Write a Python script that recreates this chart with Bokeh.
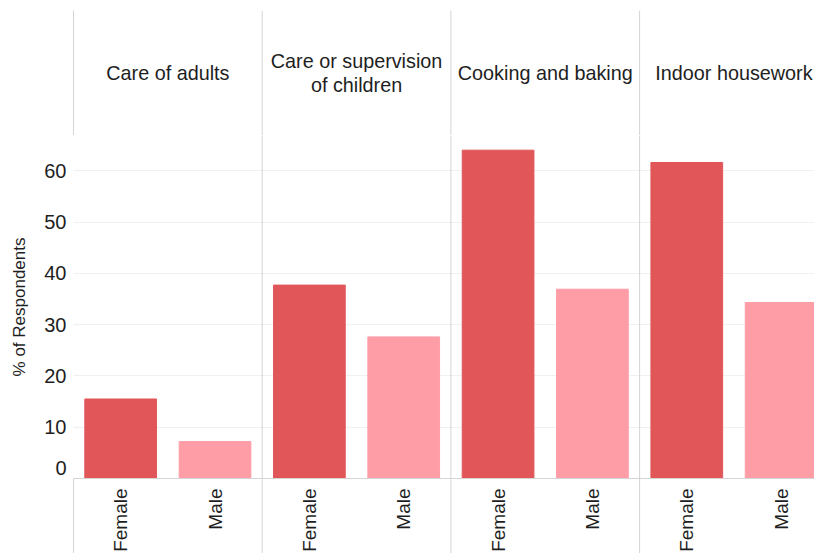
import math
from bokeh.plotting import figure
from bokeh.layouts import column
from bokeh.models import Range1d, Span, FixedTicker, ColumnDataSource, LinearAxis
from bokeh.embed import file_html
from bokeh.resources import INLINE
from bokeh.core.properties import value

# ---- data ----
categories = ["Care of adults", "Care or supervision\nof children",
              "Cooking and baking", "Indoor housework"]
genders = ["Female", "Male"]
female_pct = [15.5, 37.7, 64.0, 61.6]
male_pct = [7.2, 27.6, 36.9, 34.3]
y_ticks = [0, 10, 20, 30, 40, 50, 60]
gender_colors = ["#E15759", "#FF9DA7"]

# ---- style ----
FONT_NAME = "Liberation Sans"
FONT = value(FONT_NAME)
TXT = "#1e1e1e"
LINE = "#d4d4d4"
GRIDC = "#f0f0f0"
LEFT = 73
FRAME_W = 741
UNIT_PX = 94.35          # pixels per bar slot
PX_PER_PCT = 5.13
MAIN_H = 343
ZERO_LABEL_LIFT = 2.0    # baseline tick label is drawn just inside the pane (Tableau style)

n_g = len(genders)
x_range = Range1d(0, FRAME_W / UNIT_PX)

xs, tops, cols, glabels = [], [], [], []
for i, cat in enumerate(categories):
    for j, (g, vals) in enumerate(zip(genders, [female_pct, male_pct])):
        xs.append(i * n_g + j + 0.5)
        tops.append(vals[i])
        cols.append(gender_colors[j])
        glabels.append(g)
src = ColumnDataSource(dict(x=xs, top=tops, color=cols, label=glabels))
centers = [i * n_g + n_g / 2 for i in range(len(categories))]
dividers = [i * n_g for i in range(1, len(categories))]


def base(frame_h, y_rng, top_border=0):
    f = figure(x_range=x_range, y_range=y_rng, frame_width=FRAME_W, frame_height=frame_h,
               min_border_left=LEFT, min_border_right=0, min_border_top=top_border,
               min_border_bottom=0, x_axis_location=None, output_backend="svg",
               toolbar_location=None, outline_line_color=None,
               background_fill_color="white", border_fill_color="white")
    f.xgrid.visible = False
    for d in dividers:
        f.add_layout(Span(location=d, dimension="height", line_color=LINE, line_width=1))
    return f


def line_only_yaxis(f):
    ax = f.yaxis[0]
    ax.ticker = FixedTicker(ticks=[])
    ax.axis_line_color = LINE
    ax.major_tick_line_color = None
    ax.minor_tick_line_color = None
    ax.major_tick_out = 0
    ax.minor_tick_out = 0
    ax.major_label_text_font_size = "0px"
    ax.major_label_standoff = 0
    f.ygrid.visible = False


# ---- header ----
h = base(125, Range1d(0, 1), top_border=10)
line_only_yaxis(h)
h.text(x=centers, y=[0.5] * len(centers), text=categories, text_align="center",
       text_baseline="middle", text_font=FONT, text_font_size="19.8px",
       text_line_height=1.1, text_color=TXT)

# ---- main ----
p = base(MAIN_H, Range1d(0, MAIN_H / PX_PER_PCT))
p.vbar(x="x", top="top", width=0.76, fill_color="color", line_color="color", source=src)
ya = p.yaxis[0]
zero_pos = y_ticks[0] + ZERO_LABEL_LIFT
ya.ticker = FixedTicker(ticks=[zero_pos] + y_ticks[1:])
ya.major_label_overrides = {zero_pos: str(y_ticks[0])}
ya.axis_label = "% of Respondents"
ya.axis_label_text_font = FONT_NAME
ya.axis_label_text_font_size = "17px"
ya.axis_label_text_font_style = "normal"
ya.axis_label_text_color = TXT
ya.axis_label_standoff = 12
ya.axis_line_color = None
ya.major_tick_line_color = None
ya.minor_tick_line_color = None
ya.major_tick_out = 0
ya.minor_tick_out = 0
ya.major_label_text_font = FONT_NAME
ya.major_label_text_font_size = "20px"
ya.major_label_text_color = TXT
ya.major_label_standoff = 7
p.ygrid.ticker = FixedTicker(ticks=y_ticks[1:])
p.ygrid.grid_line_color = GRIDC

# ---- bottom (gender labels) ----
b = base(75, Range1d(0, 1))
line_only_yaxis(b)
top_ax = LinearAxis(ticker=FixedTicker(ticks=[]), axis_line_color=LINE,
                    major_tick_line_color=None, minor_tick_line_color=None,
                    major_label_text_font_size="0px", major_label_standoff=0,
                    major_tick_out=0, minor_tick_out=0)
b.add_layout(top_ax, "above")
b.text(x="x", y=1, text="label", source=src, angle=math.pi / 2, text_align="right",
       text_baseline="middle", y_offset=10, text_font=FONT, text_font_size="19px",
       text_color=TXT)

layout = column(h, p, b, spacing=0)
open("out.html", "w").write(file_html(layout, INLINE))
